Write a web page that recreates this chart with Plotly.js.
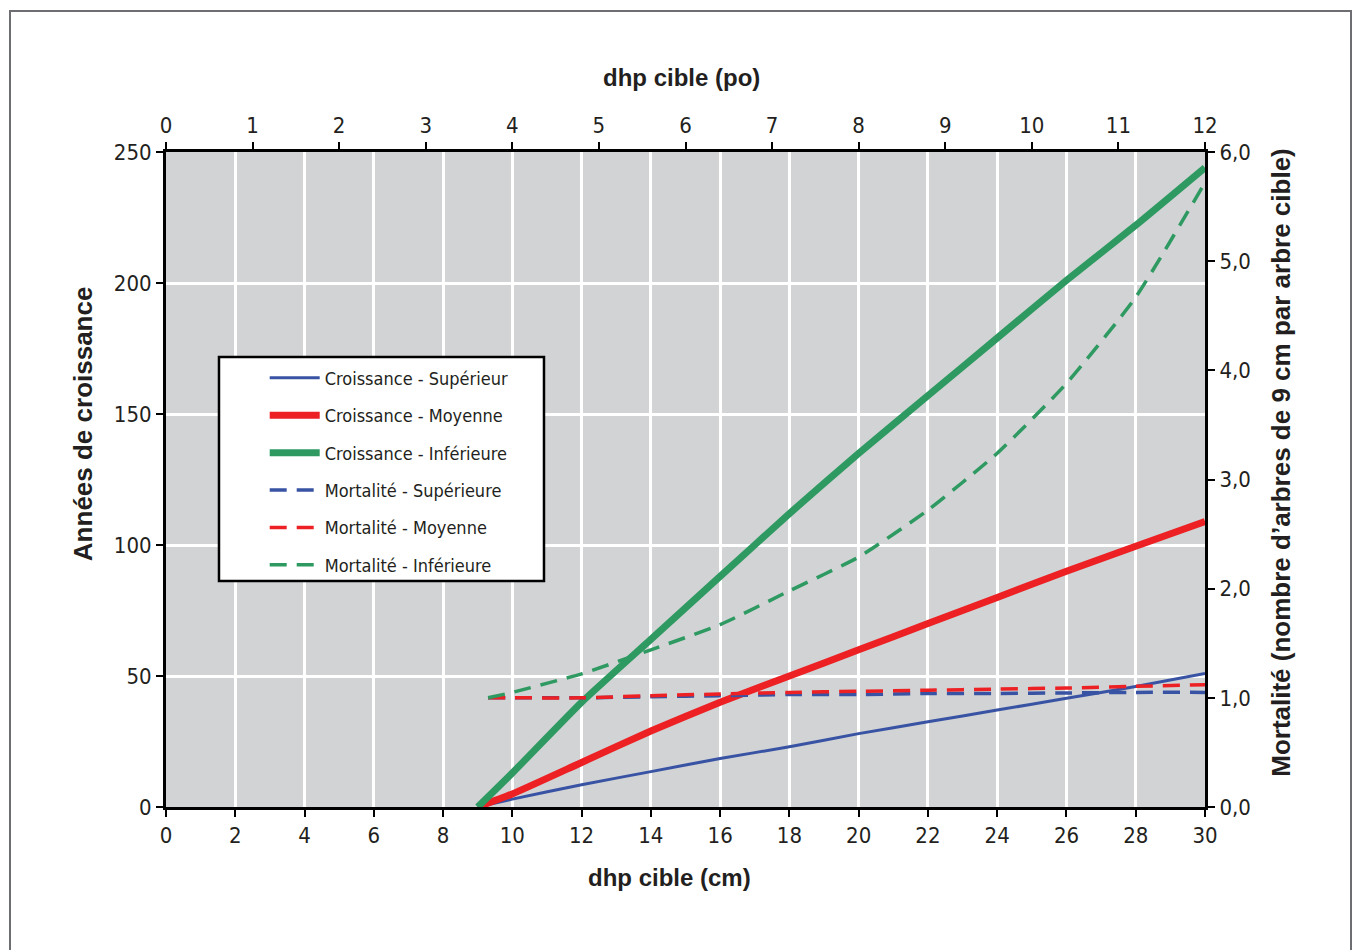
<!DOCTYPE html>
<html>
<head>
<meta charset="utf-8">
<script src="https://cdn.plot.ly/plotly-3.0.1.min.js"></script>
<style>
  html, body { margin: 0; padding: 0; background: #ffffff; }
  #wrap { position: relative; width: 1355px; height: 950px; }
  #chart { width: 1355px; height: 950px; }
  #frame { position: absolute; left: 9px; top: 10px; width: 1343px; height: 960px;
           border: 2px solid #6d6e71; pointer-events: none; box-sizing: border-box; }
</style>
</head>
<body>
<div id="wrap">
  <div id="chart"></div>
  <div id="frame"></div>
</div>
<script>
// ---- Data ----
const dhpCm = [9, 10, 12, 14, 16, 18, 20, 22, 24, 26, 28, 30];
const croissanceSuperieur = [0, 3, 8.5, 13.5, 18.5, 23, 28, 32.5, 37, 41.5, 46, 51];
const croissanceMoyenne   = [0, 5, 17, 29, 40, 50, 60, 70, 80, 90, 99.5, 109];
const croissanceInferieure = [0, 13, 40, 64, 88, 112, 135, 157, 179, 201, 222, 244];

const dhpCmMort = [9.3, 10, 12, 14, 16, 18, 20, 22, 24, 26, 28, 30];
const mortaliteSuperieure = [1.0, 1.0, 1.0, 1.01, 1.02, 1.03, 1.03, 1.04, 1.04, 1.045, 1.05, 1.05];
const mortaliteMoyenne    = [1.0, 1.0, 1.0, 1.02, 1.035, 1.05, 1.06, 1.07, 1.08, 1.09, 1.105, 1.12];
const mortaliteInferieure = [1.0, 1.05, 1.22, 1.44, 1.67, 1.98, 2.29, 2.72, 3.24, 3.88, 4.67, 5.72];

const seriesNames = [
  "Croissance - Supérieur",
  "Croissance - Moyenne",
  "Croissance - Inférieure",
  "Mortalité - Supérieure",
  "Mortalité - Moyenne",
  "Mortalité - Inférieure"
];

const xTicksCm = [0, 2, 4, 6, 8, 10, 12, 14, 16, 18, 20, 22, 24, 26, 28, 30];
const xTicksPo = [0, 1, 2, 3, 4, 5, 6, 7, 8, 9, 10, 11, 12];
const yTicksLeft = [0, 50, 100, 150, 200, 250];
const yTicksRight = [0, 1, 2, 3, 4, 5, 6];

const titleBottom = "dhp cible (cm)";
const titleTop = "dhp cible (po)";
const titleLeft = "Années de croissance";
const titleRight = "Mortalité (nombre d’arbres de 9 cm par arbre cible)";

// ---- Styles ----
const BLUE = "#3953a4", RED = "#ed2024", GREEN = "#2e9a62";
const NARROW = "'Liberation Sans Narrow', 'Arial Narrow', 'DejaVu Sans Condensed', sans-serif";
const BOLD = "'Liberation Sans', Arial, sans-serif";
const TXT = "#231f20";
const DASH = "17px,10px";

const traces = [
  {x: dhpCm, y: croissanceSuperieur, name: seriesNames[0], legendgroup: "g1",
   mode: "lines", line: {color: BLUE, width: 3, shape: "spline", smoothing: 0.5}, xaxis: "x", yaxis: "y"},
  {x: dhpCm, y: croissanceMoyenne, name: seriesNames[1], legendgroup: "g2",
   mode: "lines", line: {color: RED, width: 7, shape: "spline", smoothing: 0.5}, xaxis: "x", yaxis: "y"},
  {x: dhpCm, y: croissanceInferieure, name: seriesNames[2], legendgroup: "g3",
   mode: "lines", line: {color: GREEN, width: 7, shape: "spline", smoothing: 0.5}, xaxis: "x", yaxis: "y"},
  {x: dhpCmMort, y: mortaliteSuperieure, name: seriesNames[3], legendgroup: "g4",
   mode: "lines", line: {color: BLUE, width: 3.5, dash: DASH, shape: "spline", smoothing: 0.5}, xaxis: "x", yaxis: "y2"},
  {x: dhpCmMort, y: mortaliteMoyenne, name: seriesNames[4], legendgroup: "g5",
   mode: "lines", line: {color: RED, width: 3.5, dash: DASH, shape: "spline", smoothing: 0.5}, xaxis: "x", yaxis: "y2"},
  {x: dhpCmMort, y: mortaliteInferieure, name: seriesNames[5], legendgroup: "g6",
   mode: "lines", line: {color: GREEN, width: 3.5, dash: DASH, shape: "spline", smoothing: 0.5}, xaxis: "x", yaxis: "y2"}
];

const axisCommon = {
  showline: true, linecolor: "#000000", linewidth: 3,
  ticks: "outside", ticklen: 7, tickwidth: 2, tickcolor: "#000000",
  tickfont: {family: NARROW, size: 22, color: TXT},
  zeroline: false, fixedrange: true
};

const titleFont = (s) => ({family: BOLD, size: s, color: TXT, weight: "bold"});

const layout = {
  width: 1355, height: 950,
  margin: {l: 166, r: 150, t: 152, b: 143, pad: 0},
  paper_bgcolor: "#ffffff",
  plot_bgcolor: "#d1d3d4",
  separators: ",.",
  showlegend: true,
  legend: {
    x: 0.095, y: 0.683, xanchor: "left", yanchor: "top",
    bgcolor: "rgba(0,0,0,0)", borderwidth: 0,
    font: {family: NARROW, size: 18, color: TXT},
    traceorder: "grouped", tracegroupgap: 11, itemwidth: 50
  },
  xaxis: Object.assign({}, axisCommon, {
    range: [0, 30], tickvals: xTicksCm, ticktext: xTicksCm.map(String),
    showgrid: true, gridcolor: "#ffffff", gridwidth: 3, anchor: "y"
  }),
  xaxis2: Object.assign({}, axisCommon, {
    range: [0, 12], tickvals: xTicksPo, ticktext: xTicksPo.map(String),
    overlaying: "x", side: "top", anchor: "y", showgrid: false
  }),
  yaxis: Object.assign({}, axisCommon, {
    range: [0, 250], tickvals: yTicksLeft, ticktext: yTicksLeft.map(String),
    showgrid: true, gridcolor: "#ffffff", gridwidth: 3
  }),
  yaxis2: Object.assign({}, axisCommon, {
    range: [0, 6], tickvals: yTicksRight, tickformat: ".1f",
    overlaying: "y", side: "right", anchor: "x", showgrid: false
  }),
  annotations: [
    {text: titleBottom, xref: "paper", yref: "paper", x: 0.485, y: -0.107,
     xanchor: "center", yanchor: "middle", showarrow: false, font: titleFont(24)},
    {text: titleTop, xref: "paper", yref: "paper", x: 0.4957, y: 1.113,
     xanchor: "center", yanchor: "middle", showarrow: false, font: titleFont(24)},
    {text: titleLeft, xref: "paper", yref: "paper", x: -0.0799, y: 0.586, textangle: -90,
     xanchor: "center", yanchor: "middle", showarrow: false, font: titleFont(26)},
    {text: titleRight, xref: "paper", yref: "paper", x: 1.0731, y: 0.527, textangle: -90,
     xanchor: "center", yanchor: "middle", showarrow: false, font: titleFont(26)}
  ],
  shapes: [
    {type: "rect", xref: "paper", yref: "paper", x0: 0.051, x1: 0.3638, y0: 0.345, y1: 0.687,
     fillcolor: "#ffffff", line: {color: "#000000", width: 2.5}, layer: "above"}
  ]
};

// an empty trace so that the top (po) axis is drawn
traces.push({x: [0, 12], y: [null, null], xaxis: "x2", yaxis: "y", showlegend: false, hoverinfo: "skip", mode: "lines"});

Plotly.newPlot("chart", traces, layout, {displayModeBar: false, staticPlot: true});
</script>
</body>
</html>
